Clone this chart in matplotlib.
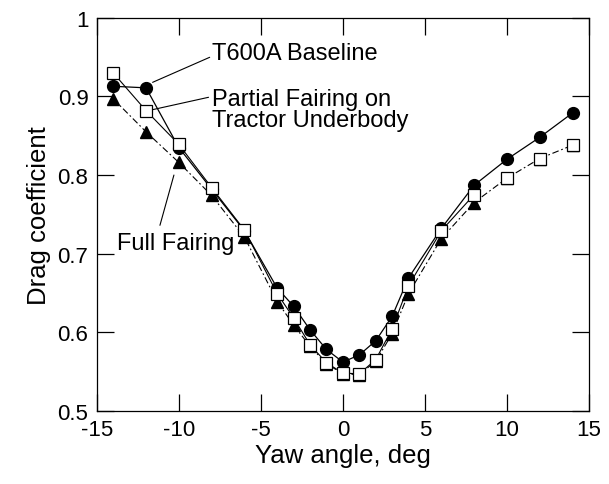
import matplotlib
matplotlib.use("Agg")
import matplotlib.pyplot as plt
from matplotlib.ticker import FuncFormatter

plt.rcParams['font.family'] = ['Liberation Sans', 'DejaVu Sans']
plt.rcParams['axes.unicode_minus'] = False

# yaw angle, deg
yaw = [-14, -12, -10, -8, -6, -4, -3, -2, -1, 0, 1, 2, 3, 4, 6, 8, 10, 12, 14]
# drag coefficient per configuration
baseline = [0.913, 0.911, 0.835, 0.782, 0.729, 0.656, 0.633, 0.603, 0.578, 0.562,
            0.571, 0.589, 0.620, 0.669, 0.732, 0.787, 0.820, 0.848, 0.879]
partial = [0.930, 0.882, 0.839, 0.784, 0.730, 0.649, 0.618, 0.584, 0.561, 0.548,
           0.547, 0.565, 0.604, 0.659, 0.729, 0.775, 0.796, 0.821, 0.838]
full = [0.897, 0.855, 0.816, 0.774, 0.721, 0.639, 0.609, 0.582, 0.560, 0.547,
        0.546, 0.563, 0.598, 0.649, 0.719, 0.765, 0.796, 0.821, 0.838]
partial_line_end = 8  # solid line for partial fairing only drawn up to 8 deg

fig = plt.figure(figsize=(6.09, 4.85), dpi=100)
ax = fig.add_axes([0.159, 0.151, 0.808, 0.810])

ax.plot(yaw, full, color='black', lw=0.8, ls=(0, (6, 2.5, 1.5, 2.5)),
        marker='^', ms=8, mfc='black', mec='black', zorder=2)
ax.plot(yaw, baseline, color='black', lw=0.9, marker='o', ms=8.5,
        mfc='black', mec='black', zorder=3)
xs = [a for a in yaw if a <= partial_line_end]
ax.plot(xs, partial[:len(xs)], color='black', lw=0.8, zorder=4)
ax.plot(yaw, partial, ls='none', marker='s', ms=8.5, mfc='white',
        mec='black', mew=0.9, zorder=5)

fs_ann = 17
ax.annotate('T600A Baseline', xy=(-11.6, 0.918), xytext=(-7.95, 0.948),
            fontsize=fs_ann, ha='left', va='baseline',
            arrowprops=dict(arrowstyle='-', lw=0.8, color='black',
                            shrinkA=0, shrinkB=0, relpos=(0, 0.35)))
ax.annotate('Partial Fairing on\nTractor Underbody', xy=(-11.65, 0.883),
            xytext=(-7.95, 0.862), fontsize=fs_ann, ha='left', va='baseline',
            linespacing=0.98,
            arrowprops=dict(arrowstyle='-', lw=0.8, color='black',
                            shrinkA=0, shrinkB=0, relpos=(-0.02, 0.78)))
ax.annotate('Full Fairing', xy=(-10.3, 0.800), xytext=(-13.8, 0.706),
            fontsize=fs_ann, ha='left', va='baseline',
            arrowprops=dict(arrowstyle='-', lw=0.8, color='black',
                            shrinkA=0, shrinkB=0, relpos=(0.37, 1.3)))

ax.set_xlim(-15, 15)
ax.set_ylim(0.5, 1.0)
ax.set_xticks([-15, -10, -5, 0, 5, 10, 15])
ax.set_yticks([0.5, 0.6, 0.7, 0.8, 0.9, 1.0])
ax.yaxis.set_major_formatter(FuncFormatter(lambda v, p: '%g' % round(v, 2)))
ax.tick_params(direction='in', length=12, width=0.9, top=True, right=True,
               labelsize=16, pad=6)
for s in ax.spines.values():
    s.set_linewidth(0.9)

ax.set_xlabel('Yaw angle, deg', fontsize=18.5, labelpad=2)
ax.set_ylabel('Drag coefficient', fontsize=18.5, labelpad=5)

fig.savefig('out.png', dpi=100)
